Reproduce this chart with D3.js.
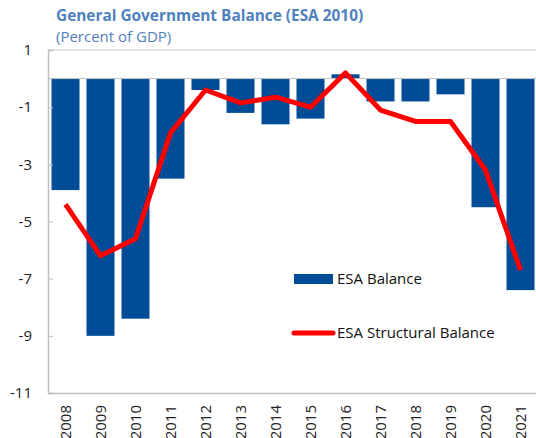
<!DOCTYPE html>
<html lang="en">
	<head>
		<meta charset="utf-8">
		<title>General Government Balance</title>
		<script type="text/javascript" src="https://cdn.jsdelivr.net/npm/d3@7"></script>
		<style type="text/css">
			body{
				margin: 0;
				background: white;
				overflow: hidden;
			}
			text{
				font-family: "Open Sans", sans-serif;
			}
		</style>
	</head>
	<body>
		<div class="chart"></div>
		<script type="text/javascript">

			var years = ["2008","2009","2010","2011","2012","2013","2014","2015","2016","2017","2018","2019","2020","2021"];
			var esaBalance = [-3.9, -9.0, -8.4, -3.5, -0.4, -1.2, -1.6, -1.4, 0.15, -0.8, -0.8, -0.55, -4.5, -7.4];
			var esaStructural = [-4.4, -6.2, -5.6, -1.9, -0.4, -0.85, -0.65, -1.0, 0.2, -1.1, -1.5, -1.5, -3.2, -6.7];
			var yTicks = [1, -1, -3, -5, -7, -9, -11];

			var w = 536;
			var h = 438;

			var chartL = 48, chartT = 50, chartB = 393, chartR = 538;

			var svg = d3.select("div.chart")
						.append("svg")
						.attr("width", w)
						.attr("height", h);

			var xScale = d3.scaleBand()
						.domain(years)
						.range([chartL, chartR])
						.paddingInner(0.2)
						.paddingOuter(0.1);

			var yScale = d3.scaleLinear()
						.domain([-11, 1])
						.range([chartB, chartT]);

			// title
			svg.append("text")
				.attr("x", 56)
				.attr("y", 21)
				.attr("fill", "#4f81bd")
				.attr("font-size", 15.4)
				.attr("font-weight", "bold")
				.text("General Government Balance (ESA 2010)");

			svg.append("text")
				.attr("x", 56)
				.attr("y", 42)
				.attr("fill", "#4f81bd")
				.attr("font-size", 15)
				.text("(Percent of GDP)");

			// plot frame top
			svg.append("line")
				.attr("x1", chartL).attr("x2", chartR)
				.attr("y1", chartT).attr("y2", chartT)
				.attr("stroke", "#d9d9d9").attr("stroke-width", 1.5);

			// bars
			svg.selectAll("rect.bar")
				.data(esaBalance)
				.enter()
				.append("rect")
				.attr("class", "bar")
				.attr("x", (d, i) => xScale(years[i]))
				.attr("y", (d) => yScale(Math.max(0, d)))
				.attr("width", xScale.bandwidth())
				.attr("height", (d) => Math.abs(yScale(d) - yScale(0)))
				.attr("fill", "#004c97");

			// zero line
			svg.append("line")
				.attr("x1", chartL).attr("x2", chartR)
				.attr("y1", yScale(0)).attr("y2", yScale(0))
				.attr("stroke", "#bfbfbf").attr("stroke-width", 1);

			// y axis
			var yAxis = d3.axisLeft(yScale)
						.tickValues(yTicks)
						.tickSize(-5)
						.tickPadding(16)
						.tickFormat(d3.format("d"));

			var gy = svg.append("g")
				.attr("transform", "translate(" + chartL + ",0)")
				.call(yAxis);
			gy.select(".domain").attr("stroke", "#bfbfbf").attr("stroke-width", 1.5);
			gy.selectAll(".tick line").attr("stroke", "#bfbfbf");
			gy.selectAll(".tick text")
				.attr("font-size", 15)
				.attr("fill", "#222")
				.text((d) => d < 0 ? "-" + Math.abs(d) : d);

			// x axis
			var xAxis = d3.axisBottom(xScale).tickSize(0);
			var gx = svg.append("g")
				.attr("transform", "translate(0," + chartB + ")")
				.call(xAxis);
			gx.select(".domain").attr("stroke", "#bfbfbf").attr("stroke-width", 1.5);
			gx.selectAll(".tick text")
				.attr("font-size", 15)
				.attr("fill", "#222")
				.attr("transform", "rotate(-90)")
				.attr("text-anchor", "end")
				.attr("x", -12)
				.attr("y", 0)
				.attr("dy", "0.35em");

			// structural balance line
			var line = d3.line()
				.x((d, i) => xScale(years[i]) + xScale.bandwidth() / 2)
				.y((d) => yScale(d));

			svg.append("path")
				.datum(esaStructural)
				.attr("d", line)
				.attr("fill", "none")
				.attr("stroke", "#ff0000")
				.attr("stroke-width", 5)
				.attr("stroke-linejoin", "round");

			// legend
			svg.append("rect")
				.attr("x", 294).attr("y", 274)
				.attr("width", 39).attr("height", 10)
				.attr("fill", "#004c97");
			svg.append("text")
				.attr("x", 337).attr("y", 284)
				.attr("font-size", 15).attr("fill", "#111")
				.text("ESA Balance");

			svg.append("line")
				.attr("x1", 294).attr("x2", 333)
				.attr("y1", 333).attr("y2", 333)
				.attr("stroke", "#ff0000").attr("stroke-width", 5)
				.attr("stroke-linecap", "round");
			svg.append("text")
				.attr("x", 337).attr("y", 338)
				.attr("font-size", 15).attr("fill", "#111")
				.text("ESA Structural Balance");

		</script>
	</body>
</html>
